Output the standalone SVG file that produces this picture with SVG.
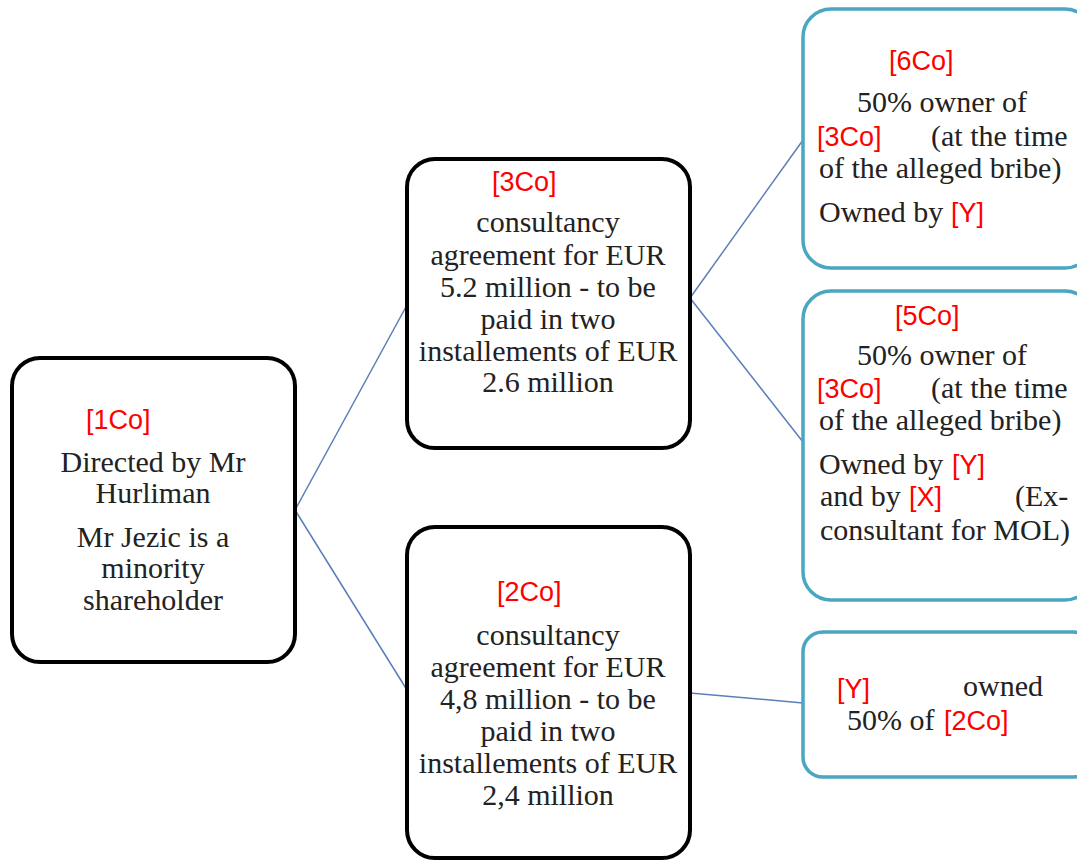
<svg xmlns="http://www.w3.org/2000/svg" width="1077" height="861" viewBox="0 0 1077 861">
<style>
.bk{fill:#fff;stroke:#000;stroke-width:4}
.tl{fill:#fff;stroke:#4ba6bf;stroke-width:3.5}
.t{font-family:"Liberation Serif",serif;font-size:30px;fill:#222;text-anchor:middle}
.ts{font-family:"Liberation Serif",serif;font-size:30px;fill:#222}
.r{font-family:"Liberation Sans",Arial,sans-serif;font-size:27px;fill:#f00}
.c{stroke:#5a7fb8;stroke-width:1.5;fill:none}
</style>
<rect width="1077" height="861" fill="#fff"/>
<g id="connectors">
<line class="c" x1="295" y1="510" x2="407" y2="305"/>
<line class="c" x1="295" y1="510" x2="407" y2="690"/>
<line class="c" x1="690" y1="298" x2="803" y2="140"/>
<line class="c" x1="690" y1="298" x2="803" y2="442"/>
<line class="c" x1="690" y1="693" x2="803" y2="703"/>
</g>
<g id="n1co">
<rect class="bk" x="12" y="358" width="283" height="304" rx="28"/>
<text class="r" x="86" y="429">[1Co]</text>
<text class="t" x="153" y="472">Directed by Mr</text>
<text class="t" x="153" y="503">Hurliman</text>
<text class="t" x="153" y="547">Mr Jezic is a</text>
<text class="t" x="153" y="578">minority</text>
<text class="t" x="153" y="610">shareholder</text>
</g>
<g id="n3co">
<rect class="bk" x="407" y="159" width="283" height="289" rx="28"/>
<text class="r" x="492" y="191">[3Co]</text>
<text class="t" x="548" y="232">consultancy</text>
<text class="t" x="548" y="265">agreement for EUR</text>
<text class="t" x="548" y="297">5.2 million - to be</text>
<text class="t" x="548" y="329">paid in two</text>
<text class="t" x="548" y="361">installements of EUR</text>
<text class="t" x="548" y="392">2.6 million</text>
</g>
<g id="n2co">
<rect class="bk" x="407" y="527" width="283" height="331" rx="28"/>
<text class="r" x="497" y="601">[2Co]</text>
<text class="t" x="548" y="645">consultancy</text>
<text class="t" x="548" y="677">agreement for EUR</text>
<text class="t" x="548" y="709">4,8 million - to be</text>
<text class="t" x="548" y="741">paid in two</text>
<text class="t" x="548" y="773">installements of EUR</text>
<text class="t" x="548" y="805">2,4 million</text>
</g>
<g id="n6co">
<rect class="tl" x="803" y="9" width="290" height="259" rx="28"/>
<text class="r" x="889" y="70">[6Co]</text>
<text class="t" x="942" y="112">50% owner of</text>
<text class="r" x="817" y="146">[3Co]</text>
<text class="ts" x="931" y="146">(at the time</text>
<text class="ts" x="819" y="178">of the alleged bribe)</text>
<text class="ts" x="819" y="222">Owned by</text>
<text class="r" x="951" y="222">[Y]</text>
</g>
<g id="n5co">
<rect class="tl" x="803" y="291" width="290" height="309" rx="28"/>
<text class="r" x="895" y="325">[5Co]</text>
<text class="t" x="942" y="365">50% owner of</text>
<text class="r" x="817" y="398">[3Co]</text>
<text class="ts" x="931" y="398">(at the time</text>
<text class="ts" x="819" y="430">of the alleged bribe)</text>
<text class="ts" x="819" y="474">Owned by</text>
<text class="r" x="952" y="474">[Y]</text>
<text class="ts" x="820" y="506">and by</text>
<text class="r" x="909" y="506">[X]</text>
<text class="ts" x="1015" y="506">(Ex-</text>
<text class="ts" x="820" y="540">consultant for MOL)</text>
</g>
<g id="nY">
<rect class="tl" x="803" y="632" width="290" height="145" rx="20"/>
<text class="r" x="837" y="698">[Y]</text>
<text class="ts" x="963" y="696">owned</text>
<text class="ts" x="847" y="730">50% of</text>
<text class="r" x="944" y="730">[2Co]</text>
</g>
</svg>
